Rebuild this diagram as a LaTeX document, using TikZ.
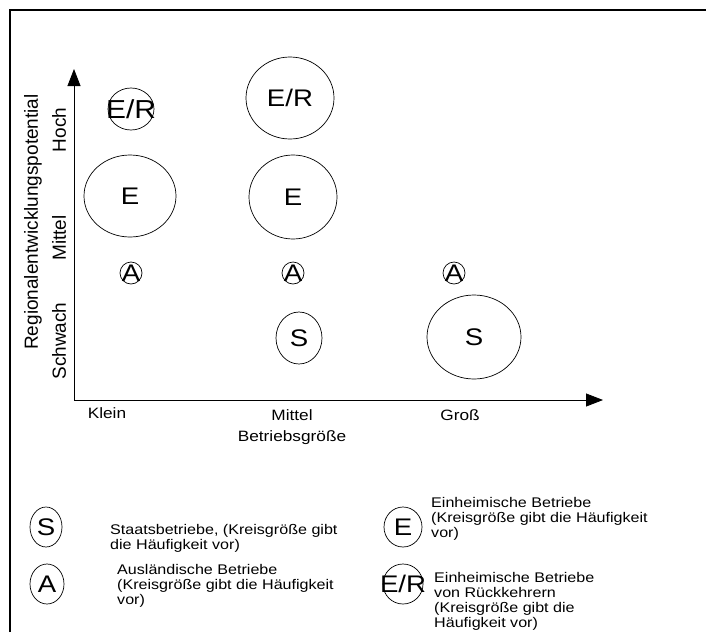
\documentclass[tikz,border=0pt]{standalone}
\usepackage{fontspec}
\setmainfont{Liberation Sans}
\newfontfamily\widefont[FakeStretch=1.15]{Liberation Sans}
\usetikzlibrary{arrows.meta}
\begin{document}
\begin{tikzpicture}[x=1pt,y=-1pt,
  axis/.style={line width=0.8pt,-{Triangle[length=17pt,width=13pt]}},
  ring/.style={line width=0.7pt},
  lbl/.style={font=\widefont\fontsize{15}{17}\selectfont, inner sep=0pt},
  vlbl/.style={font=\fontsize{19}{21}\selectfont, rotate=90, inner sep=0pt},
  sym/.style={font=\widefont\fontsize{24}{24}\selectfont, inner sep=0pt},
  bigsym/.style={font=\widefont\fontsize{26}{26}\selectfont, inner sep=0pt},
  legtext/.style={font=\widefont\fontsize{14}{15}\selectfont, align=left, anchor=west, inner sep=0pt},
]
\useasboundingbox (0,0) rectangle (706,632);

% frame lines (top and left)
\draw[line width=2.5pt] (10,632) -- (10,10) -- (706,10);

% axes
\coordinate (origin) at (74,400);
\coordinate (ytip) at (74,69);
\coordinate (xtip) at (603,400);
\draw[axis] (origin) -- (ytip);
\draw[axis] (origin) -- (xtip);

% axis labels
\node[vlbl] (ytitle) at (33,222) {Regionalentwicklungspotential};
\node[vlbl] (yhoch) at (59,130) {Hoch};
\node[vlbl] (ymittel) at (59,238) {Mittel};
\node[vlbl] (yschwach) at (59,341) {Schwach};
\node[lbl] (xklein) at (107,413) {Klein};
\node[lbl] (xmittel) at (292,415) {Mittel};
\node[lbl] (xgross) at (460,415) {Groß};
\node[lbl] (xtitle) at (292,438) {Betriebsgröße};

% bubbles
\node[bigsym] (er1) at (131,109) {E/R};
\draw[ring] (er1.center) ellipse [x radius=23pt, y radius=21pt];
\node[sym] (er2) at (290,98) {E/R};
\draw[ring] (er2.center) ellipse [x radius=44pt, y radius=41pt];
\node[sym] (e1) at (130,196) {E};
\draw[ring] (e1.center) ellipse [x radius=46pt, y radius=41pt];
\node[sym] (e2) at (293,197) {E};
\draw[ring] (e2.center) ellipse [x radius=44pt, y radius=42pt];
\node[sym] (a1) at (131,273) {A};
\draw[ring] (a1.center) circle [radius=11pt];
\node[sym] (a2) at (293,273) {A};
\draw[ring] (a2.center) circle [radius=11pt];
\node[sym] (a3) at (454,273) {A};
\draw[ring] (a3.center) circle [radius=11pt];
\node[sym] (s1) at (299,338) {S};
\draw[ring] (s1.center) ellipse [x radius=23pt, y radius=26pt];
\node[sym] (s2) at (474,337) {S};
\draw[ring] (s2.center) ellipse [x radius=47pt, y radius=42pt];

% legend
\node[sym] (ls) at (46,527) {S};
\draw[ring] (ls.center) ellipse [x radius=16pt, y radius=20pt];
\node[legtext] (lst) at (110,538) {Staatsbetriebe, (Kreisgröße gibt\\die Häufigkeit vor)};
\node[sym] (le) at (403,527) {E};
\draw[ring] (le.center) ellipse [x radius=19pt, y radius=20pt];
\node[legtext] (let) at (431,519) {Einheimische Betriebe\\(Kreisgröße gibt die Häufigkeit\\vor)};
\node[sym] (la) at (47,584) {A};
\draw[ring] (la.center) ellipse [x radius=17pt, y radius=20pt];
\node[legtext] (lat) at (117,586) {Ausländische Betriebe\\(Kreisgröße gibt die Häufigkeit\\vor)};
\node[sym] (ler) at (403,584) {E/R};
\draw[ring] (ler.center) ellipse [x radius=20pt, y radius=20pt];
\node[legtext] (lert) at (434,601) {Einheimische Betriebe\\von Rückkehrern\\(Kreisgröße gibt die\\Häufigkeit vor)};
\end{tikzpicture}
\end{document}
